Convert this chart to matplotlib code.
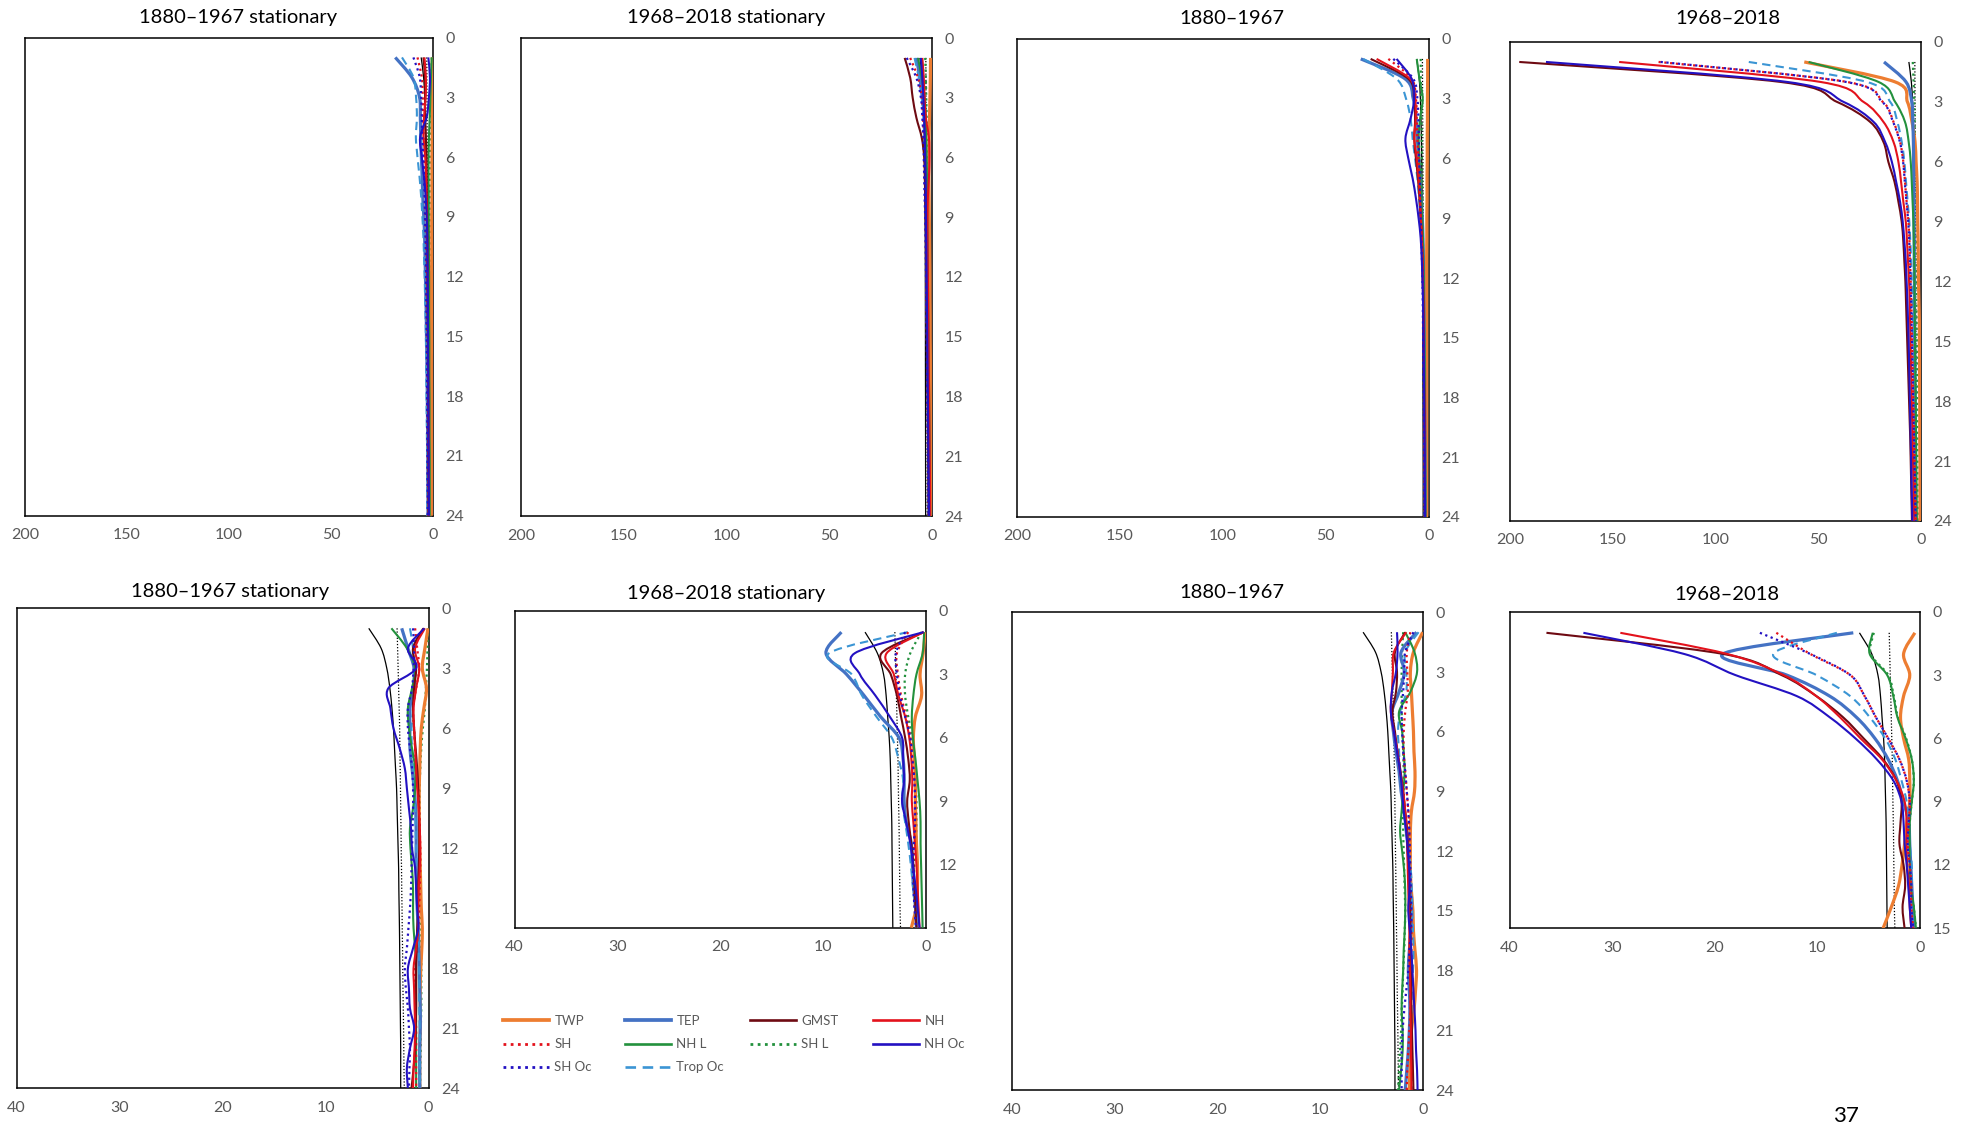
import matplotlib
matplotlib.use("Agg")
import matplotlib.pyplot as plt
from matplotlib.lines import Line2D
from matplotlib.path import Path
from matplotlib.patches import PathPatch

plt.rcParams['font.family'] = ['Lato', 'DejaVu Sans']

# ---------------- data ----------------
SERIES = ["TWP", "TEP", "GMST", "NH", "SH", "NH L", "SH L", "NH Oc", "SH Oc", "Trop Oc"]
LAGS24 = list(range(1, 25))
LAGS15 = list(range(1, 16))

# critical-value reference lines (black solid / black dotted)
crit_solid_1880 = [5.8, 4.6, 4.05, 3.75, 3.55, 3.4, 3.3, 3.2, 3.1, 3.05, 3.0, 2.95, 2.9, 2.88, 2.85, 2.82, 2.8, 2.78, 2.76, 2.74, 2.72, 2.7, 2.7, 2.7]
crit_dot_1880 = [3.05, 3.0, 2.95, 2.9, 2.85, 2.8, 2.78, 2.75, 2.72, 2.7, 2.67, 2.65, 2.62, 2.6, 2.57, 2.55, 2.52, 2.5, 2.48, 2.45, 2.42, 2.4, 2.38, 2.35]
crit_solid_1968 = [5.9, 4.7, 4.1, 3.85, 3.7, 3.55, 3.45, 3.4, 3.35, 3.3, 3.28, 3.26, 3.24, 3.22, 3.2, 3.2, 3.18, 3.16, 3.15, 3.14, 3.13, 3.12, 3.11, 3.1]
crit_dot_1968 = [3.0, 2.95, 2.9, 2.85, 2.8, 2.75, 2.7, 2.67, 2.64, 2.6, 2.57, 2.55, 2.52, 2.5, 2.45, 2.43, 2.41, 2.39, 2.37, 2.35, 2.34, 2.33, 2.32, 2.3]

# panel 1: 1880-1967 stationary (0-200)
p1 = {
    "TWP": [0.3, 0.3, 0.3, 0.4, 0.4, 0.5, 0.5, 0.5, 0.6, 0.6, 0.6, 0.7, 0.7, 0.7, 0.7, 0.8, 0.8, 0.8, 0.8, 0.8, 0.8, 0.8, 0.8, 0.8],
    "TEP": [18.5, 10.4, 6.6, 6.2, 6.0, 5.7, 5.3, 5.0, 4.5, 4.1, 3.9, 3.7, 3.5, 3.3, 3.2, 3.0, 2.9, 2.8, 2.7, 2.6, 2.5, 2.5, 2.4, 2.4],
    "GMST": [4.7, 3.9, 3.9, 3.9, 3.5, 3.2, 3.1, 3.0, 2.9, 2.8, 2.7, 2.7, 2.6, 2.6, 2.5, 2.5, 2.4, 2.4, 2.3, 2.3, 2.3, 2.2, 2.2, 2.2],
    "NH": [4.2, 3.5, 3.6, 4.4, 4.6, 3.8, 3.4, 3.2, 3.0, 2.9, 2.8, 2.7, 2.6, 2.5, 2.5, 2.4, 2.4, 2.3, 2.3, 2.2, 2.2, 2.1, 2.1, 2.1],
    "SH": [7.6, 5.5, 5.0, 4.8, 4.6, 4.3, 4.0, 3.8, 3.6, 3.4, 3.3, 3.2, 3.1, 3.0, 2.9, 2.8, 2.7, 2.7, 2.6, 2.6, 2.5, 2.5, 2.4, 2.4],
    "NH L": [0.6, 1.0, 1.3, 1.6, 2.0, 2.2, 2.2, 2.1, 2.1, 2.0, 2.0, 1.9, 1.9, 1.9, 1.8, 1.8, 1.8, 1.7, 1.7, 1.7, 1.6, 1.6, 1.6, 1.6],
    "SH L": [0.6, 0.8, 1.0, 1.2, 1.4, 1.5, 1.6, 1.6, 1.6, 1.6, 1.6, 1.6, 1.5, 1.5, 1.5, 1.5, 1.5, 1.5, 1.5, 1.5, 1.4, 1.4, 1.4, 1.4],
    "NH Oc": [2.3, 1.5, 2.0, 3.1, 6.3, 5.5, 4.4, 3.6, 3.1, 2.8, 2.7, 2.6, 2.5, 2.5, 2.4, 2.4, 2.3, 2.3, 2.2, 2.2, 2.1, 2.1, 2.0, 2.0],
    "SH Oc": [9.6, 6.5, 5.8, 5.5, 5.3, 4.8, 4.4, 4.1, 3.9, 3.7, 3.5, 3.4, 3.3, 3.2, 3.1, 3.0, 2.9, 2.9, 2.8, 2.8, 2.7, 2.7, 2.6, 2.6],
    "Trop Oc": [15.2, 9.6, 8.3, 7.9, 8.4, 7.6, 6.6, 5.8, 5.2, 4.7, 4.4, 4.1, 3.9, 3.7, 3.5, 3.4, 3.3, 3.2, 3.1, 3.0, 2.9, 2.9, 2.8, 2.8],
}

# panel 2: 1968-2018 stationary (0-200)
p2 = {
    "TWP": [0.7, 0.8, 1.0, 1.2, 1.4, 1.5, 1.5, 1.4, 1.3, 1.2, 1.1, 1.0, 1.0, 0.9, 0.9, 0.8, 0.8, 0.8, 0.7, 0.7, 0.7, 0.6, 0.6, 0.6],
    "TEP": [7.6, 5.9, 4.7, 3.6, 3.4, 3.2, 3.0, 2.9, 2.8, 2.7, 2.6, 2.5, 2.4, 2.3, 2.2, 2.1, 2.0, 1.9, 1.8, 1.7, 1.6, 1.5, 1.5, 1.4],
    "GMST": [13.3, 10.6, 9.4, 7.6, 5.0, 3.8, 3.5, 3.3, 3.1, 2.9, 2.8, 2.7, 2.6, 2.5, 2.4, 2.3, 2.2, 2.1, 2.0, 1.9, 1.8, 1.7, 1.6, 1.5],
    "NH": [4.7, 4.0, 3.6, 3.0, 1.5, 1.2, 1.5, 2.0, 2.2, 2.2, 2.1, 2.0, 1.9, 1.8, 1.7, 1.6, 1.5, 1.4, 1.3, 1.2, 1.1, 1.0, 0.9, 0.9],
    "SH": [10.6, 6.8, 5.0, 4.4, 4.0, 3.7, 3.5, 3.3, 3.1, 3.0, 2.9, 2.8, 2.7, 2.6, 2.5, 2.4, 2.3, 2.2, 2.1, 2.0, 1.9, 1.8, 1.7, 1.6],
    "NH L": [6.8, 5.0, 3.6, 3.0, 2.8, 2.6, 2.5, 2.4, 2.3, 2.2, 2.1, 2.0, 1.9, 1.8, 1.7, 1.6, 1.5, 1.4, 1.3, 1.2, 1.1, 1.0, 1.0, 0.9],
    "SH L": [3.3, 3.0, 2.8, 2.6, 2.5, 2.4, 2.3, 2.2, 2.1, 2.0, 1.9, 1.8, 1.7, 1.6, 1.5, 1.4, 1.3, 1.2, 1.1, 1.0, 1.0, 0.9, 0.9, 0.8],
    "NH Oc": [5.4, 4.7, 4.2, 3.8, 3.5, 3.3, 3.1, 3.0, 2.9, 2.8, 2.7, 2.6, 2.5, 2.4, 2.3, 2.2, 2.1, 2.0, 1.9, 1.8, 1.7, 1.6, 1.5, 1.4],
    "SH Oc": [12.3, 7.6, 5.4, 4.7, 4.2, 4.0, 3.8, 3.6, 3.3, 3.1, 3.0, 2.9, 2.8, 2.7, 2.6, 2.5, 2.4, 2.3, 2.2, 2.1, 2.0, 1.9, 1.8, 1.7],
    "Trop Oc": [8.5, 6.4, 5.0, 4.2, 3.8, 3.5, 3.3, 3.1, 3.0, 2.9, 2.8, 2.7, 2.6, 2.5, 2.4, 2.3, 2.2, 2.1, 2.0, 1.9, 1.8, 1.7, 1.6, 1.5],
}

# panel 3: 1880-1967 (0-200)
p3 = {
    "TWP": [0.5, 0.5, 0.6, 0.6, 0.7, 0.7, 0.8, 0.8, 0.9, 0.9, 1.0, 1.0, 1.0, 1.0, 1.0, 1.0, 1.0, 1.0, 1.0, 1.0, 1.0, 1.0, 1.0, 1.0],
    "TEP": [33.0, 11.5, 7.5, 6.2, 5.5, 4.9, 4.2, 3.7, 3.1, 2.8, 2.6, 2.5, 2.4, 2.3, 2.2, 2.1, 2.0, 2.0, 1.9, 1.9, 1.8, 1.8, 1.7, 1.7],
    "GMST": [28.2, 9.9, 7.1, 6.6, 7.0, 6.2, 5.2, 4.5, 3.9, 3.4, 3.1, 2.9, 2.7, 2.6, 2.5, 2.4, 2.3, 2.2, 2.1, 2.0, 2.0, 1.9, 1.9, 1.8],
    "NH": [25.3, 9.1, 6.6, 6.3, 7.0, 5.8, 5.0, 4.3, 3.8, 3.3, 3.0, 2.8, 2.6, 2.5, 2.4, 2.3, 2.2, 2.1, 2.0, 1.9, 1.9, 1.8, 1.8, 1.7],
    "SH": [19.6, 8.3, 6.2, 5.8, 5.5, 5.0, 4.6, 4.2, 3.8, 3.4, 3.1, 2.9, 2.7, 2.6, 2.5, 2.4, 2.3, 2.2, 2.1, 2.1, 2.0, 2.0, 1.9, 1.9],
    "NH L": [5.8, 4.5, 2.9, 4.2, 4.9, 4.5, 4.1, 3.6, 3.2, 2.8, 2.6, 2.4, 2.3, 2.2, 2.1, 2.0, 1.9, 1.8, 1.8, 1.7, 1.7, 1.6, 1.6, 1.5],
    "SH L": [3.9, 3.8, 3.6, 3.5, 3.4, 3.3, 3.2, 3.0, 2.9, 2.8, 2.7, 2.6, 2.5, 2.4, 2.3, 2.2, 2.1, 2.0, 2.0, 1.9, 1.9, 1.8, 1.8, 1.7],
    "NH Oc": [15.6, 8.3, 7.1, 8.8, 11.3, 9.9, 7.8, 6.2, 4.9, 3.9, 3.4, 3.0, 2.8, 2.6, 2.5, 2.4, 2.3, 2.2, 2.1, 2.0, 1.9, 1.9, 1.8, 1.8],
    "SH Oc": [17.2, 7.5, 5.5, 5.0, 4.8, 4.6, 4.3, 4.1, 3.9, 3.6, 3.3, 3.1, 2.9, 2.8, 2.7, 2.6, 2.5, 2.4, 2.3, 2.2, 2.2, 2.1, 2.1, 2.0],
    "Trop Oc": [31.8, 15.6, 11.0, 8.8, 7.8, 6.6, 5.5, 4.7, 3.9, 3.4, 3.1, 2.9, 2.7, 2.6, 2.5, 2.4, 2.3, 2.2, 2.1, 2.0, 2.0, 1.9, 1.9, 1.8],
}

# panel 4: 1968-2018 (0-200)
p4 = {
    "TWP": [56.8, 12.6, 6.6, 4.4, 2.9, 2.4, 1.9, 1.7, 1.6, 1.4, 1.3, 1.2, 1.0, 0.8, 0.8, 0.7, 0.7, 0.6, 0.6, 0.6, 0.5, 0.5, 0.5, 0.5],
    "TEP": [18.0, 7.3, 4.5, 4.0, 3.7, 3.6, 3.5, 3.4, 3.4, 3.3, 3.3, 3.2, 3.2, 3.1, 3.1, 3.0, 3.0, 2.9, 2.9, 2.8, 2.8, 2.7, 2.7, 2.6],
    "GMST": [195.5, 68.4, 40.9, 24.8, 18.3, 15.9, 12.9, 11.0, 9.4, 8.6, 8.1, 7.6, 7.3, 7.0, 6.7, 6.4, 6.1, 5.8, 5.5, 5.2, 5.0, 4.8, 4.6, 4.4],
    "NH": [146.9, 49.0, 28.0, 18.3, 13.4, 11.0, 9.7, 8.6, 7.4, 6.8, 6.3, 5.8, 5.5, 5.3, 5.1, 4.9, 4.7, 4.5, 4.3, 4.1, 3.9, 3.7, 3.5, 3.3],
    "SH": [127.7, 36.1, 18.6, 13.4, 10.2, 8.6, 7.8, 7.0, 6.1, 5.6, 5.3, 5.0, 4.7, 4.5, 4.3, 4.1, 3.9, 3.7, 3.5, 3.3, 3.1, 2.9, 2.7, 2.5],
    "NH L": [54.7, 20.7, 12.6, 7.8, 6.0, 5.0, 4.5, 4.1, 3.7, 3.5, 3.3, 3.2, 3.1, 3.0, 2.9, 2.8, 2.7, 2.6, 2.5, 2.4, 2.3, 2.2, 2.1, 2.0],
    "SH L": [4.0, 3.6, 3.3, 3.1, 3.0, 2.9, 2.8, 2.7, 2.6, 2.5, 2.4, 2.3, 2.2, 2.1, 2.0, 2.0, 1.9, 1.9, 1.8, 1.8, 1.7, 1.7, 1.6, 1.6],
    "NH Oc": [182.5, 65.2, 37.7, 23.1, 17.5, 14.2, 12.1, 10.2, 8.9, 8.1, 7.4, 7.0, 6.6, 6.3, 6.0, 5.8, 5.6, 5.4, 5.2, 5.0, 4.8, 4.6, 4.4, 4.2],
    "SH Oc": [126.7, 36.5, 18.9, 13.6, 10.3, 8.7, 7.9, 7.1, 6.2, 5.7, 5.4, 5.1, 4.8, 4.6, 4.4, 4.2, 4.0, 3.8, 3.6, 3.4, 3.2, 3.0, 2.8, 2.6],
    "Trop Oc": [83.8, 26.4, 15.0, 11.5, 9.4, 8.1, 7.3, 6.5, 5.7, 5.2, 4.8, 4.5, 4.2, 4.0, 3.8, 3.6, 3.4, 3.2, 3.0, 2.9, 2.8, 2.7, 2.6, 2.5],
}

# panel 5: 1880-1967 stationary (0-40)
p5 = {
    "TWP": [0.05, 0.35, 0.6, 0.2, 0.45, 0.7, 0.8, 0.85, 0.9, 0.9, 0.9, 0.85, 0.8, 0.75, 0.7, 0.6, 0.65, 0.75, 0.8, 0.8, 0.8, 0.85, 0.85, 0.85],
    "TEP": [2.6, 2.0, 1.4, 1.5, 1.8, 1.8, 1.8, 1.6, 1.4, 1.25, 1.2, 1.2, 1.2, 1.15, 1.1, 1.0, 0.95, 0.9, 0.85, 0.8, 0.8, 0.85, 0.85, 0.85],
    "GMST": [0.5, 1.5, 1.2, 1.4, 1.5, 1.4, 1.25, 1.1, 1.0, 0.95, 0.9, 0.9, 0.95, 1.0, 1.0, 1.1, 1.15, 1.2, 1.2, 1.2, 1.25, 1.3, 1.45, 1.65],
    "NH": [0.35, 1.3, 0.9, 1.2, 1.45, 1.4, 1.3, 1.2, 1.1, 0.95, 0.85, 0.8, 0.85, 0.95, 1.0, 1.0, 1.2, 1.45, 1.4, 1.35, 1.3, 1.35, 1.45, 1.5],
    "SH": [1.3, 1.1, 0.9, 1.2, 1.5, 1.4, 1.3, 1.2, 1.0, 0.9, 0.85, 0.8, 0.8, 0.85, 0.9, 1.0, 1.15, 1.3, 1.3, 1.25, 1.2, 1.2, 1.2, 1.2],
    "NH L": [3.6, 2.1, 1.3, 1.6, 2.0, 1.9, 1.6, 1.3, 1.3, 1.5, 1.8, 1.75, 1.6, 1.5, 1.5, 1.45, 1.3, 1.2, 1.2, 1.2, 1.2, 1.2, 1.2, 1.2],
    "SH L": [0.05, 0.1, 0.15, 0.25, 0.35, 0.55, 0.7, 0.8, 0.85, 0.85, 0.85, 0.85, 0.8, 0.8, 0.75, 0.7, 0.7, 0.7, 0.7, 0.7, 0.75, 0.75, 0.8, 0.8],
    "NH Oc": [0.4, 2.0, 1.2, 3.9, 3.7, 3.4, 2.8, 2.3, 2.1, 1.9, 1.7, 1.6, 1.3, 1.2, 1.1, 1.0, 1.5, 2.0, 1.9, 1.8, 1.4, 1.8, 2.1, 2.0],
    "SH Oc": [1.5, 1.4, 1.45, 1.6, 2.0, 2.0, 1.8, 1.6, 1.5, 1.5, 1.55, 1.6, 1.65, 1.7, 1.8, 1.95, 2.1, 2.3, 2.2, 2.0, 1.9, 1.8, 1.85, 1.9],
    "Trop Oc": [1.8, 1.5, 1.4, 1.3, 1.5, 1.65, 1.6, 1.5, 1.4, 1.3, 1.25, 1.2, 1.15, 1.1, 1.1, 1.0, 0.95, 0.9, 0.9, 0.9, 0.85, 0.85, 0.85, 0.85],
}

# panel 6: 1968-2018 stationary (0-40, lags 1-15)
p6 = {
    "TWP": [0.05, 0.25, 0.55, 0.4, 1.0, 1.2, 1.1, 1.0, 1.0, 0.95, 0.9, 0.8, 0.8, 0.9, 1.4],
    "TEP": [8.2, 9.7, 7.7, 6.0, 4.4, 2.6, 2.2, 2.1, 2.1, 1.9, 1.4, 1.3, 1.2, 1.0, 0.9],
    "GMST": [0.2, 4.3, 3.4, 2.8, 2.4, 2.0, 1.7, 1.55, 1.8, 1.65, 1.4, 1.2, 1.1, 1.0, 0.9],
    "NH": [0.2, 3.8, 3.1, 2.65, 2.0, 1.6, 1.4, 1.3, 1.35, 1.2, 1.05, 0.9, 0.8, 0.7, 0.6],
    "SH": [1.7, 2.8, 2.7, 2.4, 1.9, 1.5, 1.3, 1.1, 1.0, 1.0, 1.1, 1.2, 1.15, 1.05, 0.9],
    "NH L": [0.15, 0.3, 0.9, 1.2, 1.35, 1.25, 1.0, 0.8, 0.6, 0.5, 0.5, 0.45, 0.4, 0.35, 0.3],
    "SH L": [0.4, 1.5, 2.0, 2.0, 1.7, 1.3, 1.1, 1.0, 0.9, 0.9, 0.95, 1.1, 1.15, 1.05, 0.9],
    "NH Oc": [0.2, 6.9, 6.4, 4.9, 3.5, 2.3, 2.2, 2.1, 2.3, 1.9, 1.5, 1.25, 1.0, 0.8, 0.6],
    "SH Oc": [2.0, 2.9, 2.8, 2.5, 2.0, 1.5, 1.3, 1.1, 1.05, 1.05, 1.15, 1.25, 1.2, 1.1, 0.95],
    "Trop Oc": [1.75, 9.4, 7.2, 6.2, 4.8, 3.3, 2.65, 2.2, 2.3, 2.0, 1.7, 1.45, 1.25, 1.0, 0.9],
}

# panel 7: 1880-1967 (0-40)
p7 = {
    "TWP": [0.0, 0.9, 1.2, 1.1, 1.0, 0.9, 0.85, 0.75, 0.8, 1.1, 1.2, 1.2, 1.2, 1.1, 0.95, 0.9, 0.75, 0.6, 0.7, 0.85, 1.1, 1.2, 1.25, 1.3],
    "TEP": [0.6, 2.1, 1.8, 2.3, 3.0, 2.85, 2.6, 2.3, 2.1, 1.8, 1.6, 1.4, 1.3, 1.2, 1.1, 1.15, 1.3, 1.4, 1.3, 1.25, 1.3, 1.4, 1.55, 1.7],
    "GMST": [1.7, 2.7, 2.5, 2.6, 2.95, 2.7, 2.45, 2.15, 1.9, 1.7, 1.5, 1.45, 1.4, 1.3, 1.25, 1.2, 1.2, 1.15, 1.1, 1.1, 1.05, 1.0, 0.95, 0.9],
    "NH": [1.6, 2.8, 2.9, 3.0, 3.1, 2.8, 2.45, 2.2, 1.9, 1.7, 1.55, 1.5, 1.45, 1.4, 1.35, 1.3, 1.3, 1.25, 1.2, 1.2, 1.15, 1.15, 1.1, 1.1],
    "SH": [1.2, 1.55, 1.5, 1.45, 1.7, 1.85, 1.85, 1.7, 1.55, 1.4, 1.3, 1.3, 1.25, 1.2, 1.15, 1.1, 1.1, 1.15, 1.2, 1.2, 1.3, 1.4, 1.5, 1.55],
    "NH L": [1.7, 0.8, 0.55, 1.2, 2.3, 2.0, 1.85, 1.75, 1.9, 2.05, 2.2, 2.0, 1.8, 1.7, 1.7, 1.75, 1.85, 1.9, 2.0, 2.05, 1.95, 1.95, 2.1, 2.3],
    "SH L": [1.9, 2.0, 2.05, 2.05, 2.05, 1.95, 1.9, 1.85, 1.85, 1.9, 1.9, 1.85, 1.8, 1.75, 1.7, 1.75, 1.8, 1.9, 1.95, 2.05, 2.1, 2.2, 2.3, 2.4],
    "NH Oc": [2.5, 2.45, 2.6, 3.0, 3.1, 2.8, 2.5, 2.2, 2.0, 1.85, 1.6, 1.45, 1.3, 1.3, 1.4, 1.25, 1.1, 1.0, 0.9, 0.8, 0.7, 0.65, 0.55, 0.5],
    "SH Oc": [0.9, 1.7, 1.8, 1.9, 2.05, 2.0, 1.9, 1.7, 1.55, 1.4, 1.3, 1.25, 1.2, 1.15, 1.1, 1.15, 1.3, 1.4, 1.6, 1.8, 1.95, 2.05, 2.05, 2.05],
    "Trop Oc": [0.4, 1.7, 1.6, 1.6, 2.2, 2.4, 2.3, 2.2, 2.0, 1.8, 1.5, 1.35, 1.15, 1.05, 1.0, 0.95, 0.9, 0.95, 1.05, 1.1, 1.1, 1.05, 1.0, 1.0],
}

# panel 8: 1968-2018 (0-40, lags 1-15)
p8 = {
    "TWP": [0.5, 1.6, 1.0, 1.6, 1.9, 1.6, 1.1, 1.0, 1.0, 1.3, 1.5, 1.75, 2.1, 2.8, 3.6],
    "TEP": [6.5, 19.2, 13.0, 8.8, 6.2, 4.4, 3.1, 2.2, 1.6, 1.1, 1.0, 0.9, 0.8, 0.7, 0.6],
    "GMST": [36.4, 19.2, 13.5, 10.1, 7.5, 5.5, 3.6, 2.3, 1.8, 1.9, 2.0, 1.6, 1.45, 1.7, 1.5],
    "NH": [29.2, 18.8, 13.3, 10.1, 7.8, 5.8, 3.7, 2.3, 1.5, 1.3, 1.3, 1.25, 1.05, 1.0, 0.85],
    "SH": [14.0, 10.7, 6.8, 5.4, 4.3, 3.1, 2.0, 1.3, 1.0, 1.1, 1.2, 1.0, 0.85, 0.85, 0.65],
    "NH L": [4.6, 4.9, 3.2, 2.6, 2.2, 1.4, 0.8, 0.6, 0.8, 1.0, 1.0, 1.0, 0.9, 0.6, 0.4],
    "SH L": [4.5, 4.8, 3.1, 2.55, 2.15, 1.35, 0.8, 0.6, 0.8, 1.0, 1.0, 1.0, 0.9, 0.6, 0.4],
    "NH Oc": [32.8, 23.0, 18.0, 12.0, 8.8, 6.3, 4.2, 2.6, 1.8, 1.6, 1.5, 1.3, 1.15, 1.0, 0.85],
    "SH Oc": [15.6, 10.7, 6.8, 5.4, 4.3, 3.1, 2.0, 1.3, 1.0, 1.1, 1.2, 1.0, 0.85, 0.85, 0.65],
    "Trop Oc": [8.1, 14.3, 10.1, 6.8, 4.9, 3.4, 2.4, 1.8, 1.3, 1.1, 1.0, 0.8, 0.8, 0.7, 0.6],
}

TITLES = ["1880–1967 stationary", "1968–2018 stationary", "1880–1967", "1968–2018",
          "1880–1967 stationary", "1968–2018 stationary", "1880–1967", "1968–2018"]
PANELS = [p1, p2, p3, p4, p5, p6, p7, p8]
PERIOD = ["1880", "1968", "1880", "1968", "1880", "1968", "1880", "1968"]
XMAX = [200, 200, 200, 200, 40, 40, 40, 40]
XTICKS_TOP = [0, 50, 100, 150, 200]
XTICKS_BOT = [0, 10, 20, 30, 40]
YMAX = [24, 24, 24, 24, 24, 15, 24, 15]

# ---------------- styles / layout ----------------
STYLE = {
    "TWP": dict(color="#ED7D31", lw=2.3, ls="-"),
    "TEP": dict(color="#4472C4", lw=2.3, ls="-"),
    "GMST": dict(color="#6E0A12", lw=1.5, ls="-"),
    "NH": dict(color="#E3121C", lw=1.5, ls="-"),
    "SH": dict(color="#E3121C", lw=1.6, ls=(0, (1, 1.6))),
    "NH L": dict(color="#23913D", lw=1.5, ls="-"),
    "SH L": dict(color="#23913D", lw=1.6, ls=(0, (1, 1.6))),
    "NH Oc": dict(color="#2311C2", lw=1.5, ls="-"),
    "SH Oc": dict(color="#2311C2", lw=1.6, ls=(0, (1, 1.6))),
    "Trop Oc": dict(color="#3B95D4", lw=1.5, ls=(0, (4, 2.5))),
}
DRAW_ORDER = ["SH L", "TWP", "TEP", "Trop Oc", "NH L", "SH", "GMST", "NH", "NH Oc", "SH Oc"]

W, H = 1973, 1125
# pixel boxes: left, top, right, bottom
BOXES = [(25, 37.5, 433, 515.7), (521, 38, 932, 516), (1017, 39, 1428.7, 517), (1510, 42, 1921, 521),
         (16.5, 608.3, 428.5, 1088.3), (514.5, 611, 925.7, 927.7), (1011.7, 612.3, 1422.7, 1090), (1509.5, 611.7, 1920, 928.3)]
TITLE_POS = [(238.5, 18), (726, 18), (1232, 18), (1728, 18),
             (230, 591), (726.6, 593), (1232, 593), (1726.5, 594)]

TICK_COLOR = "#595959"


def smooth_path(xs, ys):
    """Spreadsheet-style smoothed line through the points (cubic Bezier, tension 1/6)."""
    n = len(xs)
    verts = [(xs[0], ys[0])]
    codes = [Path.MOVETO]
    for i in range(n - 1):
        x0, y0 = (xs[i - 1], ys[i - 1]) if i > 0 else (xs[i], ys[i])
        x1, y1 = xs[i], ys[i]
        x2, y2 = xs[i + 1], ys[i + 1]
        x3, y3 = (xs[i + 2], ys[i + 2]) if i + 2 < n else (x2, y2)
        c1 = (x1 + (x2 - x0) / 6.0, y1 + (y2 - y0) / 6.0)
        c2 = (x2 - (x3 - x1) / 6.0, y2 - (y3 - y1) / 6.0)
        verts += [c1, c2, (x2, y2)]
        codes += [Path.CURVE4, Path.CURVE4, Path.CURVE4]
    return Path(verts, codes)


def draw_series(ax, xs, ys, color, lw, ls, z):
    patch = PathPatch(smooth_path(xs, ys), fill=False, edgecolor=color, lw=lw, ls=ls,
                      zorder=z, capstyle="butt", joinstyle="round")
    ax.add_patch(patch)


fig = plt.figure(figsize=(W / 100, H / 100), dpi=100)
fig.patch.set_facecolor("white")

for i, data in enumerate(PANELS):
    l, t, r, b = BOXES[i]
    ax = fig.add_axes([l / W, 1 - b / H, (r - l) / W, (b - t) / H])
    ymax = YMAX[i]
    lags = LAGS24 if ymax == 24 else LAGS15
    n = len(lags)
    cs = crit_solid_1880 if PERIOD[i] == "1880" else crit_solid_1968
    cd = crit_dot_1880 if PERIOD[i] == "1880" else crit_dot_1968
    draw_series(ax, cs[:n], lags, "black", 0.9, "-", 2)
    draw_series(ax, cd[:n], lags, "black", 0.9, (0, (1, 1.5)), 2)
    for k, name in enumerate(DRAW_ORDER):
        st = STYLE[name]
        draw_series(ax, data[name], lags, st["color"], st["lw"], st["ls"], 3 + k)
    ax.set_xlim(XMAX[i], 0)
    ax.set_ylim(ymax, 0)
    ax.set_xticks(XTICKS_TOP if XMAX[i] == 200 else XTICKS_BOT)
    ax.set_yticks(list(range(0, ymax + 1, 3)))
    ax.yaxis.tick_right()
    ax.tick_params(axis="both", length=0, labelsize=11.5, labelcolor=TICK_COLOR)
    ax.tick_params(axis="y", pad=9)
    ax.tick_params(axis="x", pad=9)
    for sp in ax.spines.values():
        sp.set_linewidth(1.1)
        sp.set_color("black")
    tx, ty = TITLE_POS[i]
    fig.text(tx / W, 1 - ty / H, TITLES[i], ha="center", va="center", fontsize=14.5, color="black")

# legend (4 fixed-width columns, row-major order like the reference)
LEG_COLS = [["TWP", "SH", "SH Oc"], ["TEP", "NH L", "Trop Oc"], ["GMST", "SH L"], ["NH", "NH Oc"]]
LEG_X = [503, 625, 750, 873]
for col, x in zip(LEG_COLS, LEG_X):
    handles = [Line2D([0], [0], color=STYLE[nm]["color"], lw=STYLE[nm]["lw"] + 0.4, ls=STYLE[nm]["ls"]) for nm in col]
    fig.legend(handles, col, loc="upper left", bbox_to_anchor=(x / W, 1 - 1015 / H),
               frameon=False, fontsize=9.5, handlelength=3.5, handletextpad=0.4,
               labelspacing=0.85, borderpad=0, borderaxespad=0, labelcolor=TICK_COLOR)

fig.text(1846 / W, 1 - 1106 / H, "37", ha="center", va="top", fontsize=16, color="black")

fig.savefig("out.png", dpi=100, facecolor="white")
